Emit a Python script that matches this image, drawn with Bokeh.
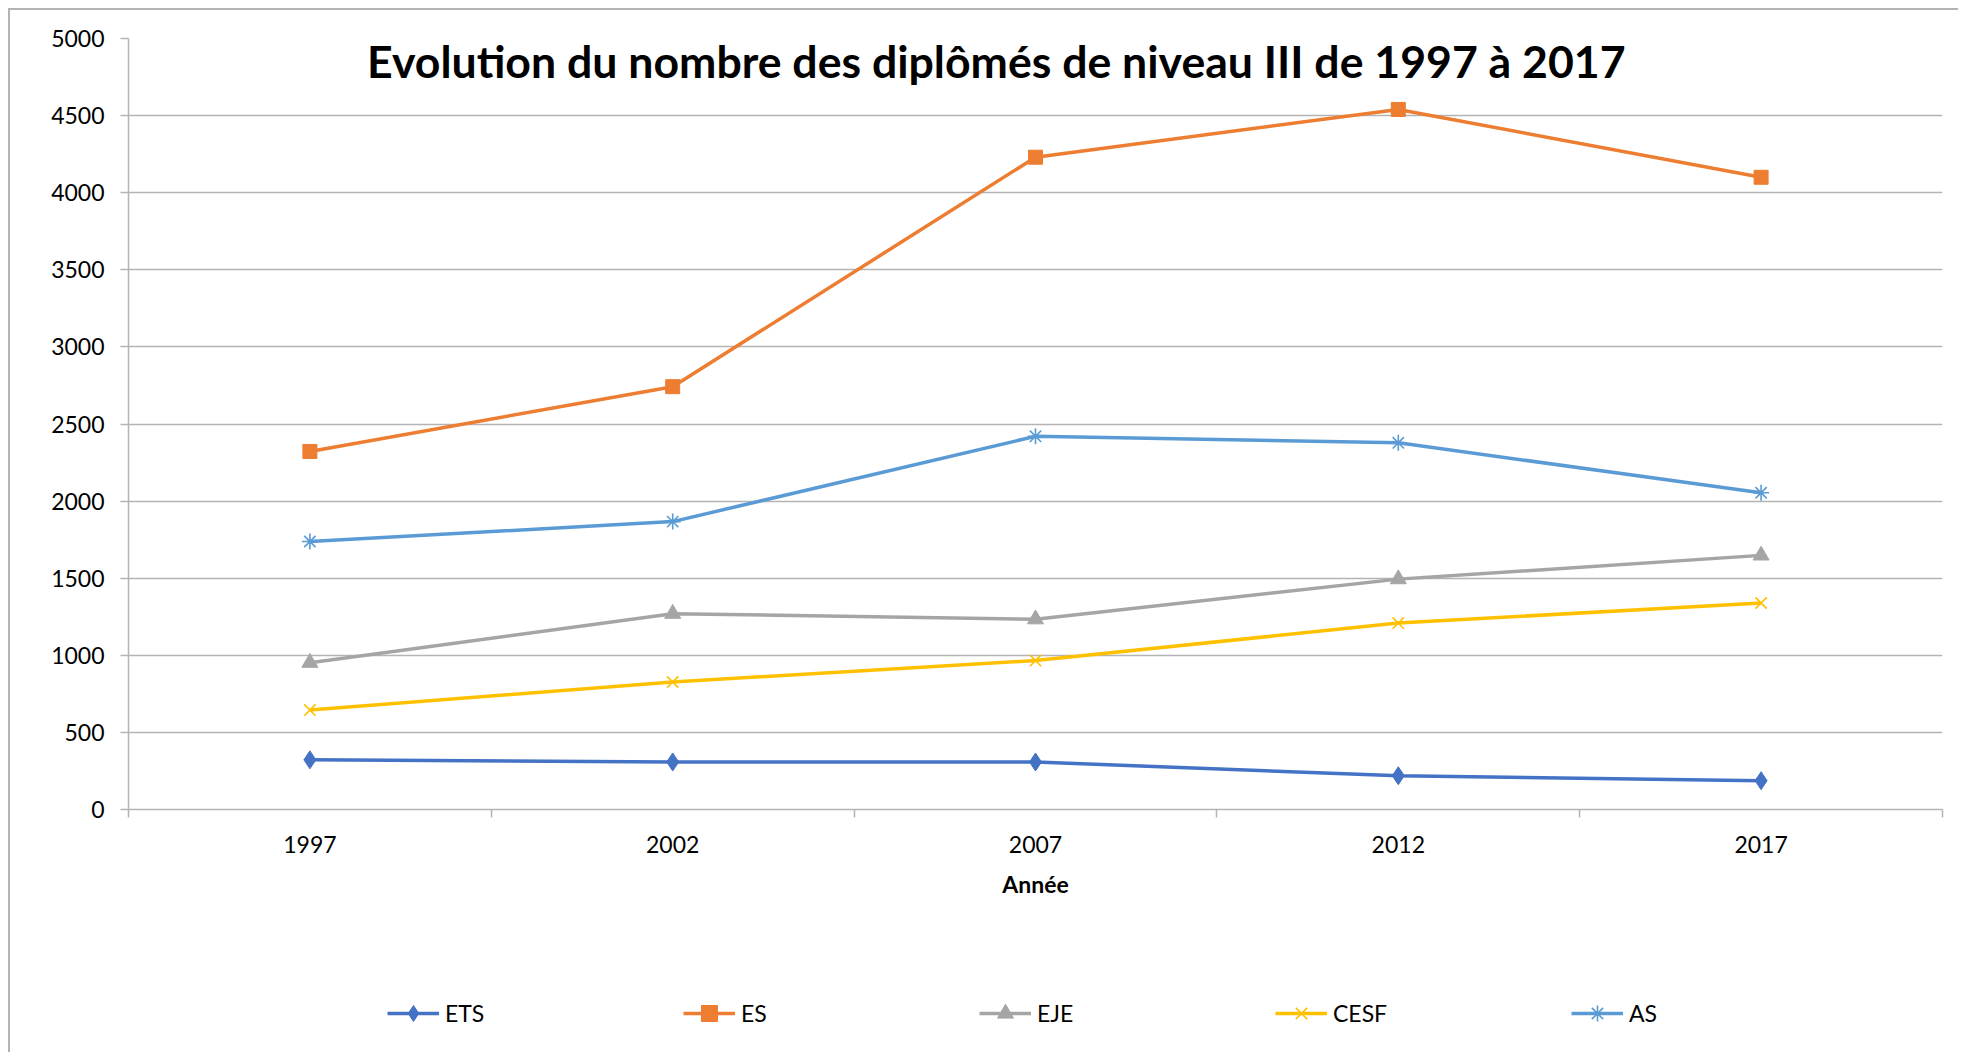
from bokeh.plotting import figure
from bokeh.layouts import column
from bokeh.models import Range1d, FixedTicker, Label, Legend, LegendItem, ColumnDataSource
from bokeh.embed import file_html
from bokeh.resources import INLINE

years = [1997, 2002, 2007, 2012, 2017]
series_names = ["ETS", "ES", "EJE", "CESF", "AS"]
ets = [322, 308, 308, 219, 187]
es = [2322, 2742, 4230, 4540, 4100]
eje = [952, 1270, 1234, 1494, 1648]
cesf = [645, 827, 966, 1209, 1339]
as_ = [1738, 1867, 2420, 2378, 2054]
y_ticks = [0, 500, 1000, 1500, 2000, 2500, 3000, 3500, 4000, 4500, 5000]
title_text = "Evolution du nombre des diplômés de niveau III de 1997 à 2017"
x_label = "Année"

colors = ["#4472C4", "#ED7D31", "#A5A5A5", "#FFC000", "#5B9BD5"]
markers = ["diamond", "square", "triangle", "x", "asterisk"]
values = [ets, es, eje, cesf, as_]

FONT = "Lato"
GRID = "#b4b4b4"
W = 1948
H_MAIN = 930
H_LEG = 112

p = figure(width=W, height=H_MAIN, output_backend="svg", toolbar_location=None,
           x_range=Range1d(1994.5, 2019.5), y_range=Range1d(0, 5000),
           min_border_left=118, min_border_right=16, min_border_top=28,
           min_border_bottom=H_MAIN - 28 - 771)
p.outline_line_color = None

# y axis
p.yaxis.ticker = FixedTicker(ticks=y_ticks)
p.yaxis.axis_line_color = GRID
p.yaxis.axis_line_width = 1.5
p.yaxis.major_tick_line_color = GRID
p.yaxis.major_tick_line_width = 1.5
p.yaxis.major_tick_out = 8
p.yaxis.major_tick_in = 0
p.yaxis.minor_tick_line_color = None
p.yaxis.major_label_text_font = FONT
p.yaxis.major_label_text_font_size = "23px"
p.yaxis.major_label_text_color = "#000000"
p.yaxis.major_label_standoff = 16

# x axis: labels at category centers, ticks at boundaries
bounds = [y - 2.5 for y in years] + [years[-1] + 2.5]
p.xaxis.ticker = FixedTicker(ticks=years, minor_ticks=bounds)
p.xaxis.axis_line_color = GRID
p.xaxis.axis_line_width = 1.5
p.xaxis.major_tick_line_color = None
p.xaxis.major_tick_out = 0
p.xaxis.major_tick_in = 0
p.xaxis.minor_tick_line_color = GRID
p.xaxis.minor_tick_line_width = 1.5
p.xaxis.minor_tick_out = 8
p.xaxis.minor_tick_in = 0
p.xaxis.major_label_text_font = FONT
p.xaxis.major_label_text_font_size = "23px"
p.xaxis.major_label_text_color = "#000000"
p.xaxis.major_label_standoff = 18
p.xaxis.axis_label = x_label
p.xaxis.axis_label_text_font = FONT
p.xaxis.axis_label_text_font_size = "23px"
p.xaxis.axis_label_text_font_style = "bold"
p.xaxis.axis_label_text_color = "#000000"
p.xaxis.axis_label_standoff = 14

p.xgrid.grid_line_color = None
p.ygrid.ticker = FixedTicker(ticks=y_ticks)
p.ygrid.grid_line_color = GRID
p.ygrid.grid_line_width = 1.5

# legend-only figure below the chart
pl = figure(width=W, height=H_LEG, output_backend="svg", toolbar_location=None,
            x_range=Range1d(0, 1), y_range=Range1d(0, 1),
            x_axis_type=None, y_axis_type=None,
            min_border_left=0, min_border_right=0, min_border_top=0, min_border_bottom=0)
pl.outline_line_color = None

items = []
for name, vals, col, mk in zip(series_names, values, colors, markers):
    for fig in (p, pl):
        src = ColumnDataSource(dict(x=years, y=vals))
        lr = fig.line("x", "y", source=src, line_color=col, line_width=3.5)
        if mk in ("x", "asterisk"):
            sr = fig.scatter("x", "y", source=src, marker=mk, size=16, line_color=col,
                             line_width=1.6, fill_color=None)
        else:
            sz = {"diamond": 18, "square": 14, "triangle": 16}[mk]
            sr = fig.scatter("x", "y", source=src, marker=mk, size=sz, line_color=col,
                             fill_color=col, line_width=1)
    items.append(LegendItem(label=name, renderers=[lr, sr]))

legend = Legend(items=items, orientation="horizontal", location=(259, 19),
                glyph_width=52, glyph_height=40, label_standoff=6, label_width=228,
                spacing=10, padding=0, margin=0,
                border_line_color=None, background_fill_alpha=0,
                label_text_font=FONT, label_text_font_size="23px",
                label_text_color="#000000")
pl.add_layout(legend)

title = Label(x=2006.46, y=4855, text=title_text, text_align="center",
              text_baseline="middle", text_font=FONT, text_font_style="bold",
              text_font_size="44.6px", text_color="#000000")
p.add_layout(title)

layout = column(p, pl, spacing=0)
layout.styles = {"border-left": "2px solid #b4b4b4", "border-top": "2px solid #b4b4b4",
                 "margin-left": "8px", "margin-top": "8px"}

open("out.html", "w").write(file_html(layout, INLINE))
